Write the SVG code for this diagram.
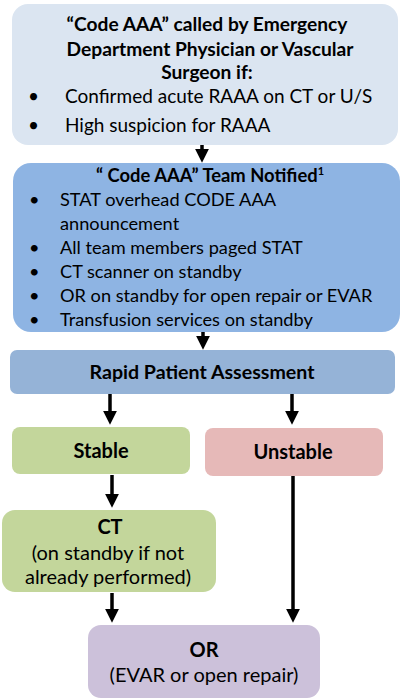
<svg xmlns="http://www.w3.org/2000/svg" width="409" height="700" viewBox="0 0 409 700">
<style>
  .t { font-family: Lato, "Liberation Sans", sans-serif; fill: #000; }
  .b { font-weight: bold; font-size: 18.4px; }
  .h { font-size: 19.2px; }
  .r { font-size: 19px; }
  .r2 { font-size: 18.2px; }
  .lg { font-size: 20px; }
  .c { text-anchor: middle; }
  .ln { stroke: #000; stroke-width: 3.5; fill: none; }
</style>
<defs>
  <marker id="ah" markerWidth="4" markerHeight="4" refX="1.2" refY="2" orient="auto" markerUnits="strokeWidth" viewBox="0 0 4 4">
    <path d="M0,0 L4,2 L0,4 Z" fill="#000"/>
  </marker>
</defs>
<rect width="409" height="700" fill="#fff"/>

<g id="connectors">
  <line class="ln" x1="202" y1="145" x2="202" y2="153" marker-end="url(#ah)"/>
  <line class="ln" x1="203" y1="332" x2="203" y2="340" marker-end="url(#ah)"/>
  <line class="ln" x1="110" y1="394" x2="110" y2="415" marker-end="url(#ah)"/>
  <line class="ln" x1="292" y1="394" x2="292" y2="415" marker-end="url(#ah)"/>
  <line class="ln" x1="112" y1="475" x2="112" y2="498" marker-end="url(#ah)"/>
  <line class="ln" x1="293" y1="476" x2="293" y2="613" marker-end="url(#ah)"/>
  <line class="ln" x1="112" y1="593" x2="112" y2="613" marker-end="url(#ah)"/>
</g>

<g id="code-called">
  <rect x="12" y="4" width="386" height="141" rx="16" fill="#dbe5f1"/>
  <text class="t b h c" x="207" y="31">“Code AAA” called by Emergency</text>
  <text class="t b h c" x="210" y="56">Department Physician or Vascular</text>
  <text class="t b h c" x="207" y="79">Surgeon if:</text>
  <text class="t r" x="28" y="103">•</text>
  <text class="t r" x="65" y="103">Confirmed acute RAAA on CT or U/S</text>
  <text class="t r" x="28" y="132">•</text>
  <text class="t r" x="65" y="132">High suspicion for RAAA</text>
</g>

<g id="team-notified">
  <rect x="13" y="163" width="387" height="169" rx="18" fill="#8eb4e3"/>
  <text class="t b c" x="210" y="182">“ Code AAA” Team Notified<tspan font-size="11" dy="-7">1</tspan></text>
  <g class="t r2">
    <text x="29" y="206">•</text>
    <text x="60" y="206">STAT overhead CODE AAA</text>
    <text x="60" y="230">announcement</text>
    <text x="29" y="254">•</text>
    <text x="60" y="254">All team members paged STAT</text>
    <text x="29" y="278">•</text>
    <text x="60" y="278">CT scanner on standby</text>
    <text x="29" y="302">•</text>
    <text x="60" y="302">OR on standby for open repair or EVAR</text>
    <text x="29" y="326">•</text>
    <text x="60" y="326">Transfusion services on standby</text>
  </g>
</g>

<g id="assessment">
  <rect x="10" y="350" width="385" height="44" rx="7" fill="#95b3d7"/>
  <text class="t b c" x="202" y="379" style="font-size:19.6px">Rapid Patient Assessment</text>
</g>

<g id="stable">
  <rect x="12" y="427" width="178" height="47" rx="8" fill="#c3d69b"/>
  <text class="t b c lg" x="101" y="458">Stable</text>
</g>

<g id="unstable">
  <rect x="205" y="428" width="178" height="48" rx="8" fill="#e6b9b8"/>
  <text class="t b c lg" x="293" y="459">Unstable</text>
</g>

<g id="ct">
  <rect x="2" y="510" width="214" height="82" rx="13" fill="#c3d69b"/>
  <text class="t b c lg" x="110" y="534">CT</text>
  <text class="t c lg" x="108" y="560">(on standby if not</text>
  <text class="t c lg" x="108" y="584">already performed)</text>
</g>

<g id="or">
  <rect x="88" y="625" width="232" height="73" rx="13" fill="#ccc1da"/>
  <text class="t b c lg" x="204" y="657">OR</text>
  <text class="t c lg" x="204" y="682">(EVAR or open repair)</text>
</g>
</svg>
